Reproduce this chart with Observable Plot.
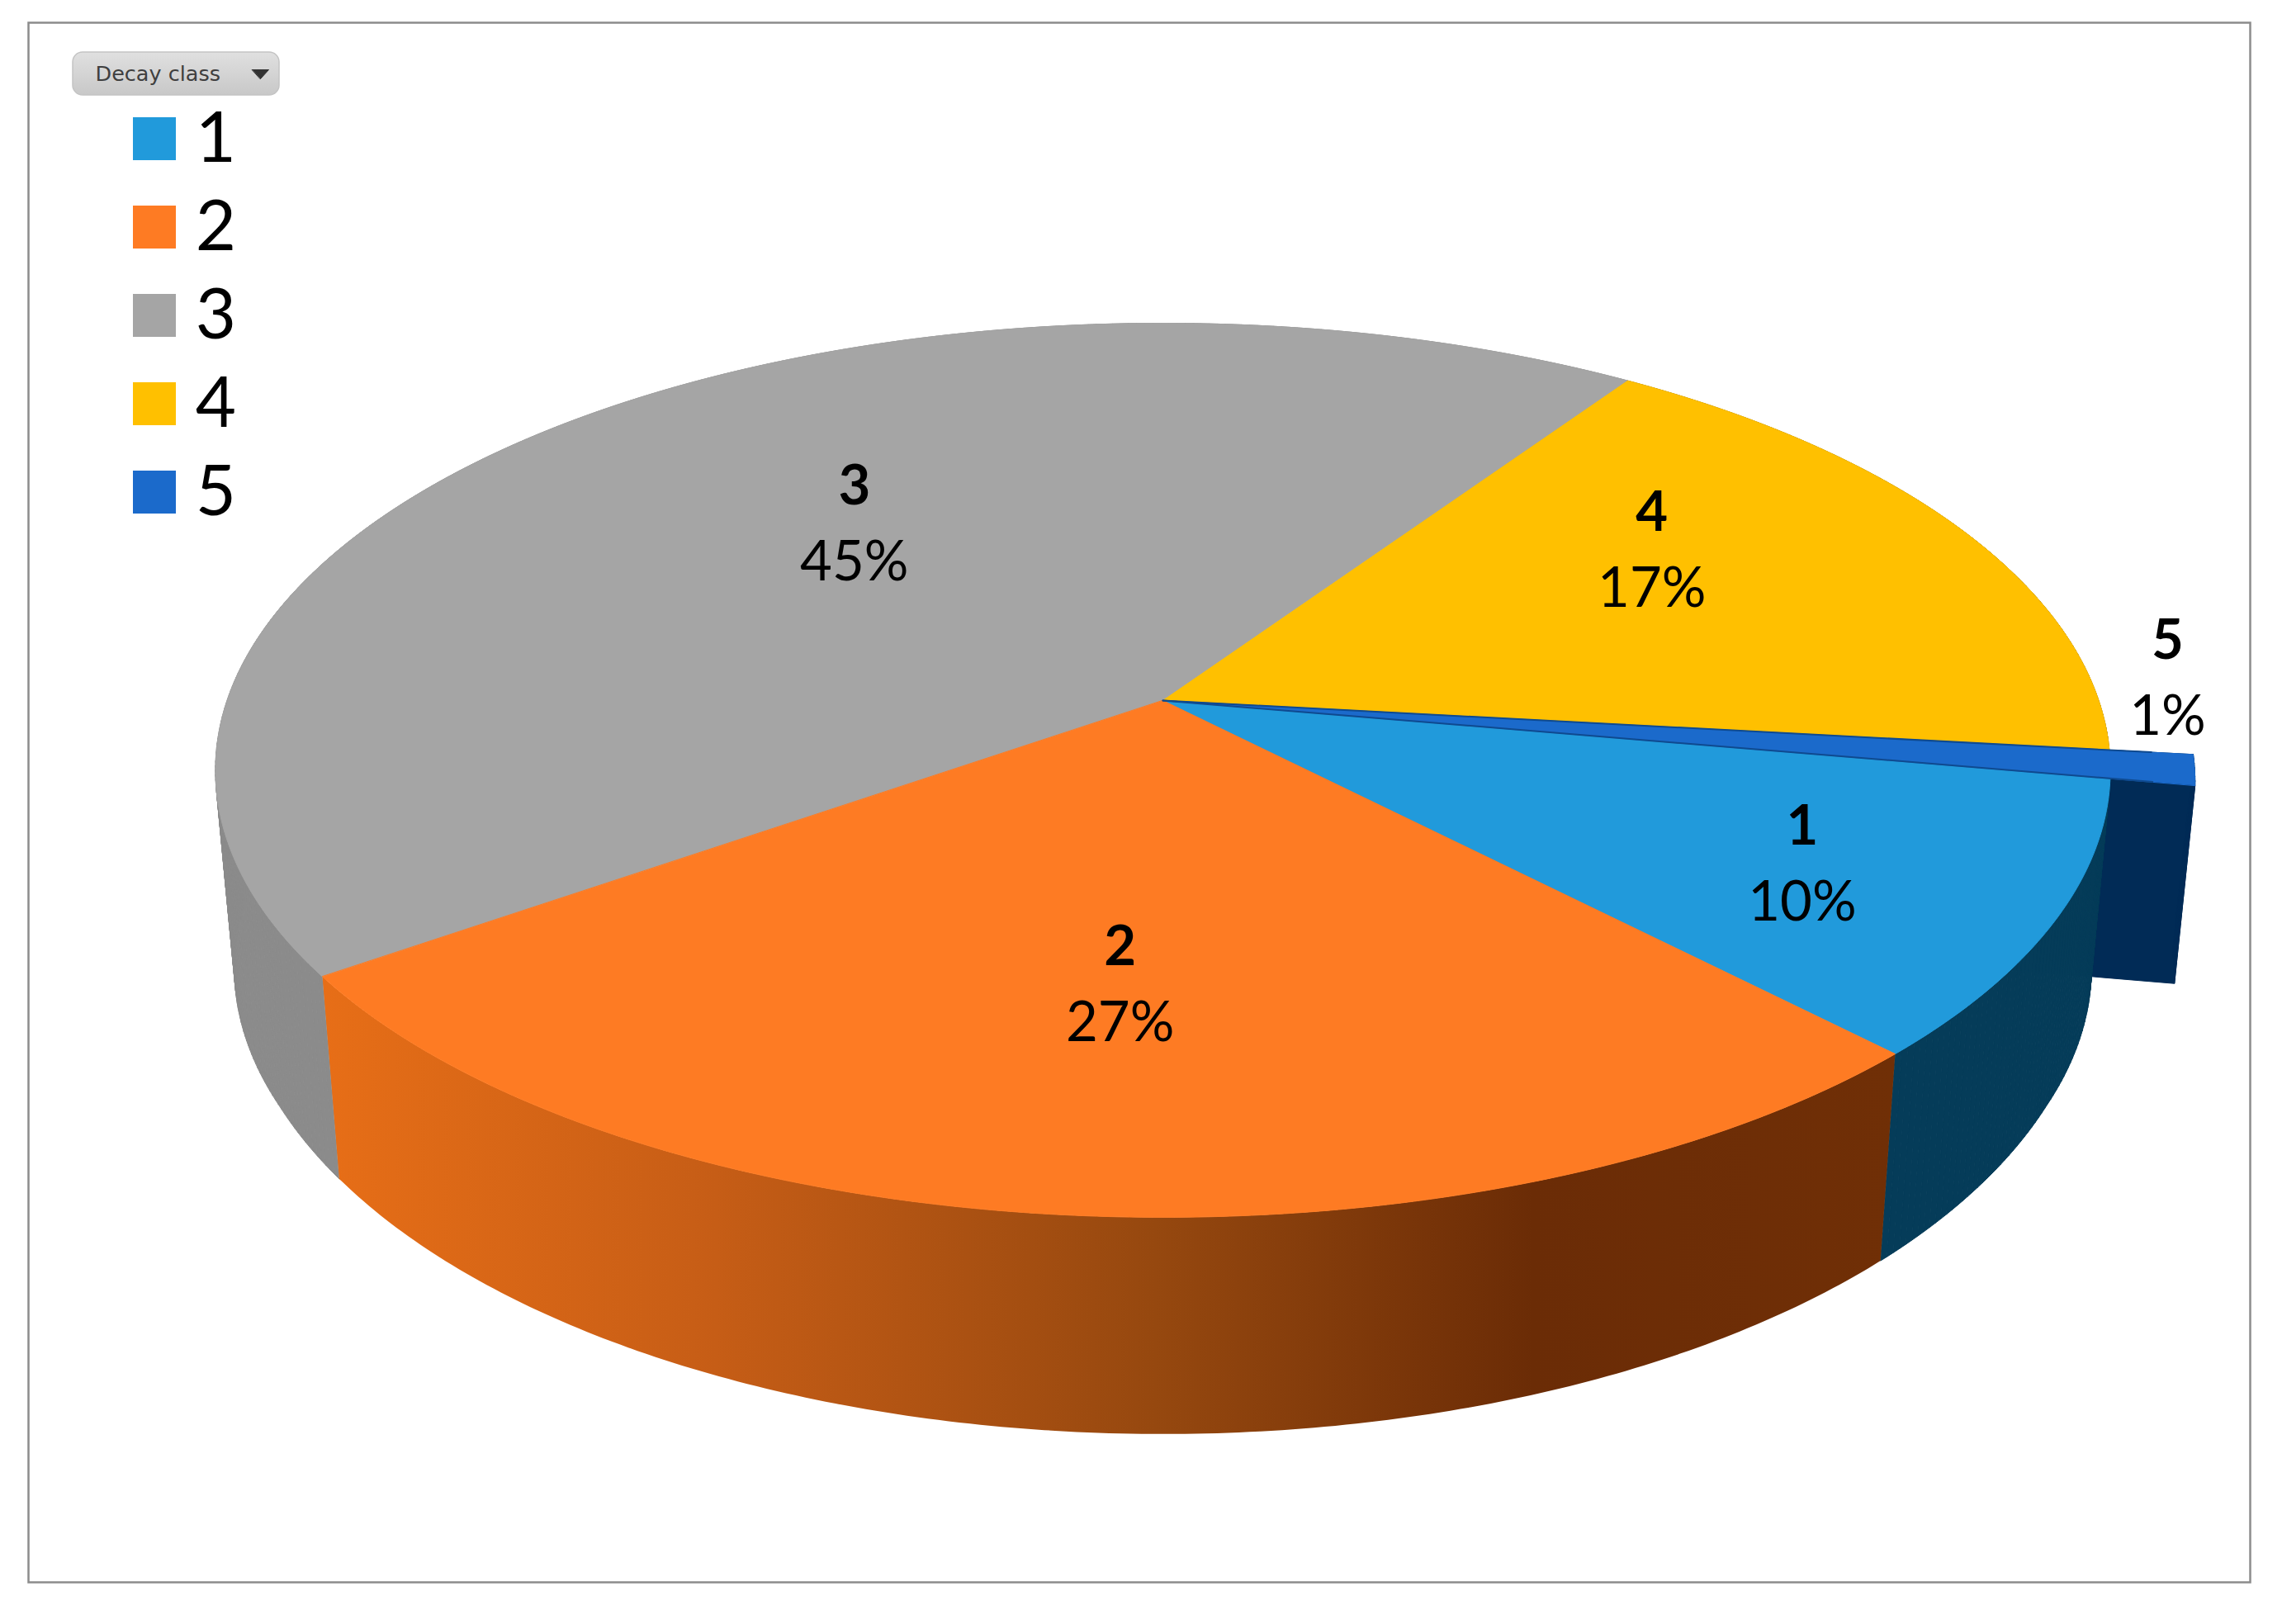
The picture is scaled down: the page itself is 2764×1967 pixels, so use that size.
<!DOCTYPE html>
<html>
<head>
<meta charset="utf-8">
<script src="https://cdn.jsdelivr.net/npm/d3@7"></script>
<script src="https://cdn.jsdelivr.net/npm/@observablehq/plot@0.6"></script>
<style>
  html, body { margin: 0; padding: 0; background: #fff; overflow: hidden; }
  svg { display: block; }
</style>
</head>
<body>
<div id="chart"></div>
<script>
// ---- data ----
const legendTitle = "Decay class";
const decayClasses = ["1", "2", "3", "4", "5"];
const shares = [10, 27.45, 44.25, 17.3, 1];
const percentLabels = ["10%", "27%", "45%", "17%", "1%"];
const topColors = ["#219ADB", "#FE7B23", "#A5A5A5", "#FFC000", "#1B6ACB"];
const sideColors = ["#053C59", "url(#orangeSide)", "#8B8B8B", "#8A6800", "#012B56"];
const orangeSideStops = [
  [0, "#E76E17"], [0.25, "#C65D16"], [0.53, "#96480F"], [0.77, "#6B2C06"], [1, "#702F06"]
];
// where each slice's label sits, in the pie's own polar terms
const labelRadius = [0.737, 0.594, 0.555, 0.66, 1.083];
const labelTurnDeg = [0.9, -1.4, 6.2, -8.5, -10.8];
// how far each slice reaches out from the centre of the pie
const sliceReach = [1, 1, 1, 1, 1.087];

// ---- pie camera ----
const W = 2764, H = 1967;
const cx = 1408, cy = 848, ax = 1133.5, ay = 396, persp = 0.156;
const startAngle = 10 * Math.PI / 180;

function rim(theta, r) {
  const u = r * Math.cos(theta), v = r * Math.sin(theta), w = 1 - persp * v;
  return [cx + ax * u / w, (cy + ay * v) / w];
}
function below([x, y]) {
  return [cx + (x - cx) * 0.98, y + Math.max(240, 240 + (y - 1100) * 0.06)];
}
const pieAngles = d3.pie().sort(null).value(d => d)
  .startAngle(startAngle).endAngle(startAngle + 2 * Math.PI)(shares);

function arc(a0, a1, r) {
  const n = Math.max(4, Math.ceil((a1 - a0) / 0.01));
  return d3.range(n + 1).map(i => rim(a0 + (a1 - a0) * i / n, r));
}
const polyMark = (pts, fill, stroke) => Plot.line(pts, {
  x: d => d[0], y: d => d[1], fill, stroke: stroke ?? fill, strokeWidth: 1, curve: "linear-closed"
});

const sideOf = i => {
  const {startAngle: a0, endAngle: a1} = pieAngles[i];
  const top = arc(a0, a1, sliceReach[i]);
  return [...top, ...top.slice().reverse().map(below)];
};
// the same side cut into narrow strips, so that the part bending round the pie's edge is filled
const stripsOf = i => {
  const {startAngle: a0, endAngle: a1} = pieAngles[i];
  const top = arc(a0, a1, sliceReach[i]);
  const rows = [];
  top.slice(1).forEach((p, k) => {
    [top[k], p, below(p), below(top[k])].forEach(q => rows.push({k, x: q[0], y: q[1]}));
  });
  return Plot.line(rows, {x: "x", y: "y", z: "k", fill: sideColors[i], stroke: sideColors[i],
    strokeWidth: 1, curve: "linear-closed"});
};
const topOf = i => {
  const {startAngle: a0, endAngle: a1} = pieAngles[i];
  return [rim(0, 0), ...arc(a0, a1, sliceReach[i])];
};
// cut walls of the pulled-out slice
const wallOf = (i, angle) => {
  const top = [rim(angle, 0), rim(angle, sliceReach[i])];
  return [...top, ...top.slice().reverse().map(below)];
};
const edgeOf = (i, angle) => [rim(angle, 0), rim(angle, sliceReach[i] * 0.96)];
const edgeMark = pts => Plot.line(pts, {x: d => d[0], y: d => d[1], stroke: "#0F4A8F", strokeWidth: 2});

const labelRows = decayClasses.map((name, i) => {
  const mid = (pieAngles[i].startAngle + pieAngles[i].endAngle) / 2;
  const [x, y] = rim(mid + labelTurnDeg[i] * Math.PI / 180, labelRadius[i]);
  return {name, pct: percentLabels[i], x, y};
});

// ---- legend layout ----
const swatchTop = i => 142 + i * 107;
const legendRows = decayClasses.map((name, i) => ({name, i}));

const defs = () => {
  const d = d3.create("svg:defs");
  const g = d.append("linearGradient").attr("id", "orangeSide");
  orangeSideStops.forEach(([o, c]) => g.append("stop").attr("offset", o).attr("stop-color", c));
  const b = d.append("linearGradient").attr("id", "buttonFace")
    .attr("x1", 0).attr("x2", 0).attr("y1", 0).attr("y2", 1);
  b.append("stop").attr("offset", 0).attr("stop-color", "#E0E0E0");
  b.append("stop").attr("offset", 1).attr("stop-color", "#C8C8C8");
  return d.node();
};

const chart = Plot.plot({
  width: W, height: H,
  marginLeft: 0, marginRight: 0, marginTop: 0, marginBottom: 0,
  x: {type: "identity", axis: null},
  y: {type: "identity", axis: null},
  color: {type: "identity"},
  marks: [
    defs,
    Plot.frame({stroke: "#8C8C8C", strokeWidth: 2.5, insetLeft: 34, insetTop: 27, insetRight: 39, insetBottom: 51}),

    // sides, back to front
    stripsOf(3),
    stripsOf(2),
    polyMark(wallOf(4, pieAngles[4].startAngle), sideColors[4]),
    polyMark(wallOf(4, pieAngles[4].endAngle), sideColors[4]),
    stripsOf(4),
    stripsOf(0),
    polyMark(sideOf(1), sideColors[1], "none"),

    // tops
    polyMark(topOf(2), topColors[2]),
    polyMark(topOf(3), topColors[3]),
    polyMark(topOf(0), topColors[0]),
    polyMark(topOf(1), topColors[1]),
    polyMark(topOf(4), topColors[4]),
    edgeMark(edgeOf(4, pieAngles[4].startAngle)),
    edgeMark(edgeOf(4, pieAngles[4].endAngle)),

    // slice labels
    Plot.text(labelRows, {x: "x", y: "y", text: "name", dy: -46, fontFamily: "Lato", fontWeight: 700, fontSize: 67, fill: "#000"}),
    Plot.text(labelRows, {x: "x", y: "y", text: "pct", dy: 46, fontFamily: "Lato", fontSize: 67, fill: "#000"}),

    // legend button
    Plot.rect([legendTitle], {x1: () => 88, x2: () => 338, y1: () => 63, y2: () => 115, rx: 12,
      fill: "url(#buttonFace)", stroke: "#C4C4C4", strokeWidth: 1.5}),
    Plot.text([legendTitle], {x: () => 115, y: () => 89, text: d => d, textAnchor: "start",
      fontFamily: "DejaVu Sans", fontSize: 25.5, fill: "#3F3F3F"}),
    polyMark([[305, 84], [325, 84], [315, 95]], "#333333"),

    // legend rows
    Plot.rect(legendRows, {x1: () => 161, x2: () => 213,
      y1: d => swatchTop(d.i), y2: d => swatchTop(d.i) + 52,
      fill: d => topColors[d.i]}),
    Plot.text(legendRows, {x: () => 261, y: d => swatchTop(d.i) + 26, text: "name",
      fontFamily: "Lato", fontSize: 85, fill: "#000"})
  ]
});
document.getElementById("chart").append(chart);
</script>
</body>
</html>
